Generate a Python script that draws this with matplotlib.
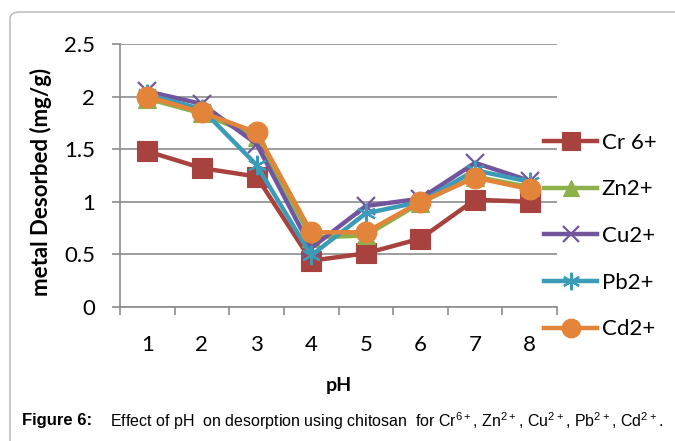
import numpy as np
import matplotlib.pyplot as plt
from matplotlib.patches import FancyBboxPatch

# ── Data ──────────────────────────────────────────────────────────────────────
ph = [1, 2, 3, 4, 5, 6, 7, 8]
cr = [1.48, 1.32, 1.24, 0.44, 0.51, 0.65, 1.02, 1.00]
zn = [1.98, 1.84, 1.62, 0.66, 0.68, 0.99, 1.24, 1.14]
cu = [2.05, 1.93, 1.55, 0.56, 0.96, 1.03, 1.37, 1.20]
pb = [2.02, 1.88, 1.35, 0.49, 0.89, 1.00, 1.30, 1.19]
cd = [2.00, 1.85, 1.66, 0.71, 0.71, 1.00, 1.23, 1.12]

labels = ["Cr 6+", "Zn2+", "Cu2+", "Pb2+", "Cd2+"]
series = [cr, zn, cu, pb, cd]
colors = ["#A8423E", "#8DB04A", "#73559E", "#3C9BB6", "#E2853A"]
markers = ["s", "^", "x", (6, 2, 0), "o"]
msizes = [14, 13, 13, 14, 15]

plt.rcParams['font.family'] = ['Lato', 'DejaVu Sans']

fig = plt.figure(figsize=(6.75, 4.41), dpi=100)
W, H = 675, 441
ax = fig.add_axes([120 / W, 1 - 307 / H, (557 - 120) / W, (307 - 44) / H])

# chart frame (rounded, runs off the right/bottom edge)
frame = FancyBboxPatch((10 / W, -0.2), 1.2, 1 - 12 / H + 0.2,
                       boxstyle="round,pad=0,rounding_size=0.015",
                       transform=fig.transFigure, fill=False,
                       ec="#b4b4b4", lw=1.0, clip_on=False)
fig.patches.append(frame)

for y, lab, c, m, ms in zip(series, labels, colors, markers, msizes):
    mew = 1.6 if m in ("x", (6, 2, 0)) else 0.8
    ax.plot(ph, y, color=c, lw=3.2, marker=m, markersize=ms,
            markeredgewidth=mew, markeredgecolor=c, label=lab,
            solid_joinstyle="round", clip_on=False)

ax.set_xlim(0.5, 8.5)
ax.set_ylim(0, 2.5)
ax.set_yticks(np.arange(0, 2.51, 0.5))
ax.set_yticklabels(["0", "0.5", "1", "1.5", "2", "2.5"])
ax.yaxis.grid(True, color="#8c8c8c", lw=1.2)
ax.set_axisbelow(True)

# Excel-style category axis: ticks between categories, labels at centres
ax.set_xticks(np.arange(0.5, 8.6, 1))
ax.set_xticklabels([])
ax.set_xticks(ph, minor=True)
ax.set_xticklabels([str(p) for p in ph], minor=True)
ax.tick_params(axis="x", which="major", length=6, width=1.2, color="#8c8c8c", direction="out")
ax.tick_params(axis="x", which="minor", length=0, pad=20, labelsize=16)
ax.tick_params(axis="y", length=6, width=1.2, color="#8c8c8c", pad=12, labelsize=16)

for s in ["top", "right"]:
    ax.spines[s].set_visible(False)
for s in ["left", "bottom"]:
    ax.spines[s].set_color("#8c8c8c")
    ax.spines[s].set_linewidth(1.2)

ax.set_ylabel("metal Desorbed (mg/g)", fontsize=16, fontweight="bold")
ax.yaxis.set_label_coords(-0.155, 0.475)
ax.set_xlabel("pH", fontsize=14, fontweight="bold")
ax.xaxis.set_label_coords(0.5, -0.265)

fig.legend(loc="center left", bbox_to_anchor=(544 / W, 1 - 236 / H),
           frameon=False, fontsize=16, handlelength=2.4, handletextpad=0.2,
           labelspacing=1.2, borderpad=0, borderaxespad=0, markerscale=0.9)

# caption
cap_font = ['Liberation Sans Narrow', 'Liberation Sans', 'DejaVu Sans']
plt.rcParams['mathtext.fontset'] = 'custom'
plt.rcParams['mathtext.rm'] = 'Liberation Sans'
fig.text(22 / W, 1 - 421 / H, "Figure 6:", fontsize=12, fontweight="bold",
         family=cap_font, va="center")
fig.text(110 / W, 1 - 421 / H,
         r"Effect of pH  on desorption using chitosan  for Cr$^{6+}$, Zn$^{2+}$, "
         r"Cu$^{2+}$, Pb$^{2+}$, Cd$^{2+}$.",
         fontsize=11.5, family=cap_font, va="center")

fig.savefig("out.png", dpi=100)
